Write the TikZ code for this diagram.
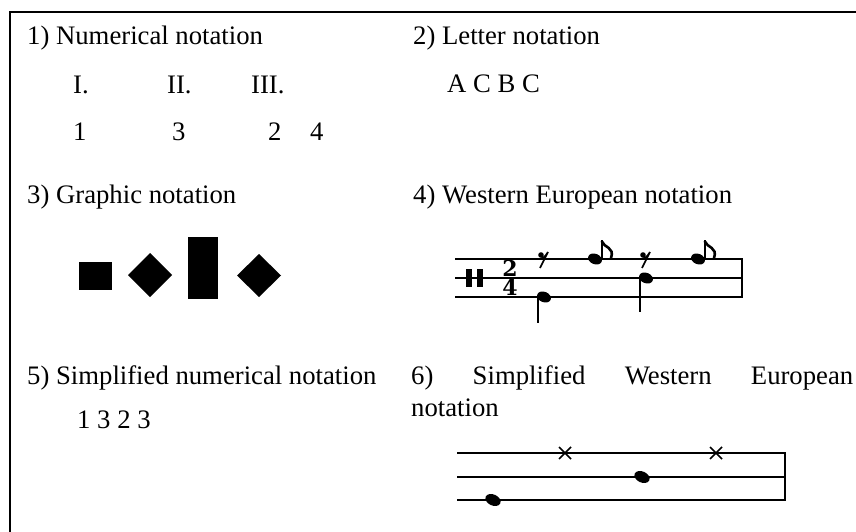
\documentclass[tikz,border=0pt]{standalone}
\usepackage{fontspec}
\setmainfont{Liberation Serif}
\newfontfamily\tsfont{DejaVu Serif}
\begin{document}
\begin{tikzpicture}[x=1pt,y=-1pt,
  txt/.style={anchor=base west,inner sep=0pt,font=\fontsize{26.7}{31}\selectfont},
  frameline/.style={line width=2pt},
  staffline/.style={line width=1.8pt},
  stem/.style={line width=2pt},
  flag/.style={line width=2.6pt},
  blk/.style={fill=black},
  nhead/.pic={\fill[rotate=-22] (0,0) ellipse (7.2 and 5.2);},
  shead/.pic={\fill[rotate=-25] (0,0) ellipse (8 and 5.5);},
  tsig/.style={inner sep=0pt,anchor=south,font=\tsfont\fontsize{22}{22}\selectfont\bfseries}]
\useasboundingbox (0,0) rectangle (856,532);
% frame
\coordinate (fbl) at (10,532);
\coordinate (ftl) at (10,12);
\coordinate (ftr) at (856,12);
\draw[frameline] (fbl) -- (ftl) -- (ftr);

% 1) numerical
\node[txt] (t1) at (27,45) {1) Numerical notation};
\node[txt] (r1) at (73,94) {I.};
\node[txt] (r2) at (167,94) {II.};
\node[txt] (r3) at (251,94) {III.};
\node[txt] (n1) at (73,140) {1};
\node[txt] (n2) at (172,140) {3};
\node[txt] (n3) at (268,140) {2};
\node[txt] (n4) at (310,140) {4};

% 2) letter
\node[txt] (t2) at (413,45) {2) Letter notation};
\node[txt] (l1) at (447,93) {A C B C};

% 3) graphic
\node[txt] (t3) at (27,203) {3) Graphic notation};
\fill[blk] (79,262) rectangle (112,290);
\fill[blk] (150,253) -- (172,275) -- (150,297) -- (128,275) -- cycle;
\fill[blk] (188,237) rectangle (218,299);
\fill[blk] (259,254) -- (281,275.5) -- (259,297) -- (237,275.5) -- cycle;

% 4) western
\node[txt] (t4) at (413,203) {4) Western European notation};
\draw[staffline] (455,259) -- (742,259);
\draw[staffline] (455,278) -- (742,278);
\draw[staffline] (455,297) -- (742,297);
\draw[staffline] (742,258) -- (742,298);
\fill[blk] (466,269) rectangle (472,287);
\fill[blk] (477,269) rectangle (483,287);
\node[tsig] (ts) at (510,296) {\shortstack{2\\4}};
% rests
\fill (541,255) circle (2.8);
\draw[line width=1.7pt] (541,256.5) .. controls (544,258) .. (548,252) -- (540,268);
\fill (643,255) circle (2.8);
\draw[line width=1.7pt] (643,256.5) .. controls (646,258) .. (650,252) -- (642,268);
% notes
\pic at (544,297) {nhead};
\draw[stem] (538,297) -- (538,323);
\pic at (595,259) {nhead};
\draw[stem] (601.5,259) -- (601.5,240);
\draw[flag] (601.5,241) .. controls (604,248) and (615,247) .. (611,258);
\pic at (646,278) {nhead};
\draw[stem] (640,278) -- (640,312);
\pic at (698,259) {nhead};
\draw[stem] (704.5,259) -- (704.5,240);
\draw[flag] (704.5,241) .. controls (707,248) and (718,247) .. (714,258);

% 5) simplified numerical
\node[txt] (t5) at (27,384) {5) Simplified numerical notation};
\node[txt] (s1) at (77,428) {1 3 2 3};

% 6) simplified western
\node[txt] (t6) at (411,384) {\makebox[442pt][s]{6)\hfill Simplified\hfill Western\hfill European}};
\node[txt] (t6b) at (411,416) {notation};
\draw[staffline] (457,453) -- (785,453);
\draw[staffline] (457,477) -- (785,477);
\draw[staffline] (457,500) -- (785,500);
\draw[staffline] (785,452) -- (785,501);
\draw[line width=1.6pt] (559,447) -- (571,459) (559,459) -- (571,447);
\draw[line width=1.6pt] (710,447) -- (722,459) (710,459) -- (722,447);
\pic at (642,477) {shead};
\pic at (493,500) {shead};
\end{tikzpicture}
\end{document}
